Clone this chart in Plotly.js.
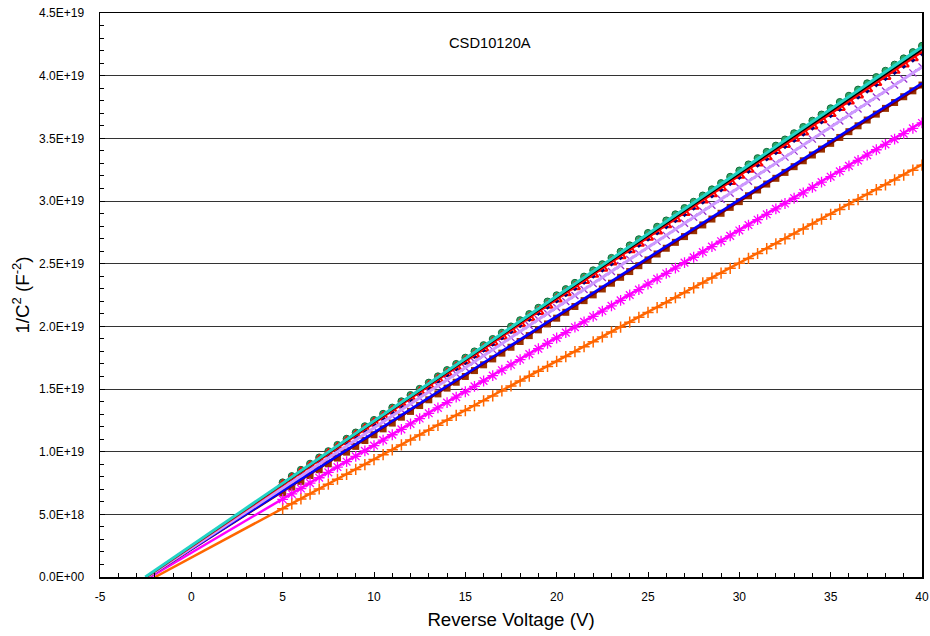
<!DOCTYPE html>
<html>
<head>
<meta charset="utf-8">
<script src="https://cdn.plot.ly/plotly-3.0.1.min.js"></script>
<style>html,body{margin:0;padding:0;background:#fff;}#chart{width:930px;height:636px;}</style>
</head>
<body>
<div id="chart"></div>
<script>
// Reverse voltage (V) of the measured points
var voltage = [5,5.5,6,6.5,7,7.5,8,8.5,9,9.5,10,10.5,11,11.5,12,12.5,13,13.5,14,14.5,15,15.5,16,16.5,17,17.5,18,18.5,19,19.5,20,20.5,21,21.5,22,22.5,23,23.5,24,24.5,25,25.5,26,26.5,27,27.5,28,28.5,29,29.5,30,30.5,31,31.5,32,32.5,33,33.5,34,34.5,35,35.5,36,36.5,37,37.5,38,38.5,39,39.5,40];

// 1/C^2 (F^-2) per device
var greenY = [7.55e18,8.05e18,8.55e18,9.04e18,9.54e18,10.04e18,10.54e18,11.03e18,11.53e18,12.03e18,12.53e18,13.02e18,13.52e18,14.02e18,14.52e18,15.01e18,15.51e18,16.01e18,16.51e18,17.00e18,17.50e18,18.00e18,18.50e18,18.99e18,19.49e18,19.99e18,20.49e18,20.98e18,21.48e18,21.98e18,22.48e18,22.97e18,23.47e18,23.97e18,24.47e18,24.96e18,25.46e18,25.96e18,26.46e18,26.95e18,27.45e18,27.95e18,28.45e18,28.94e18,29.44e18,29.94e18,30.44e18,30.93e18,31.43e18,31.93e18,32.43e18,32.92e18,33.42e18,33.92e18,34.42e18,34.91e18,35.41e18,35.91e18,36.41e18,36.90e18,37.40e18,37.90e18,38.40e18,38.89e18,39.39e18,39.89e18,40.39e18,40.88e18,41.38e18,41.88e18,42.38e18];
var redY = [7.35e18,7.84e18,8.34e18,8.83e18,9.32e18,9.82e18,10.31e18,10.80e18,11.30e18,11.79e18,12.29e18,12.78e18,13.27e18,13.77e18,14.26e18,14.75e18,15.25e18,15.74e18,16.23e18,16.73e18,17.22e18,17.71e18,18.21e18,18.70e18,19.19e18,19.69e18,20.18e18,20.67e18,21.17e18,21.66e18,22.16e18,22.65e18,23.14e18,23.64e18,24.13e18,24.62e18,25.12e18,25.61e18,26.10e18,26.60e18,27.09e18,27.58e18,28.08e18,28.57e18,29.06e18,29.56e18,30.05e18,30.55e18,31.04e18,31.53e18,32.03e18,32.52e18,33.01e18,33.51e18,34.00e18,34.49e18,34.99e18,35.48e18,35.97e18,36.47e18,36.96e18,37.45e18,37.95e18,38.44e18,38.93e18,39.43e18,39.92e18,40.41e18,40.91e18,41.40e18,41.90e18];
var navyY = [7.25e18,7.75e18,8.24e18,8.73e18,9.22e18,9.72e18,10.21e18,10.70e18,11.19e18,11.69e18,12.18e18,12.67e18,13.16e18,13.66e18,14.15e18,14.64e18,15.13e18,15.63e18,16.12e18,16.61e18,17.10e18,17.60e18,18.09e18,18.58e18,19.07e18,19.57e18,20.06e18,20.55e18,21.04e18,21.54e18,22.03e18,22.52e18,23.01e18,23.51e18,24.00e18,24.49e18,24.98e18,25.48e18,25.97e18,26.46e18,26.95e18,27.45e18,27.94e18,28.43e18,28.92e18,29.42e18,29.91e18,30.40e18,30.89e18,31.39e18,31.88e18,32.37e18,32.86e18,33.36e18,33.85e18,34.34e18,34.83e18,35.33e18,35.82e18,36.31e18,36.80e18,37.30e18,37.79e18,38.28e18,38.77e18,39.27e18,39.76e18,40.25e18,40.74e18,41.24e18,41.73e18];
var lavenderY = [7.10e18,7.58e18,8.06e18,8.54e18,9.02e18,9.50e18,9.98e18,10.46e18,10.94e18,11.42e18,11.90e18,12.38e18,12.86e18,13.34e18,13.82e18,14.30e18,14.78e18,15.26e18,15.74e18,16.22e18,16.70e18,17.18e18,17.66e18,18.14e18,18.62e18,19.10e18,19.58e18,20.06e18,20.54e18,21.02e18,21.50e18,21.98e18,22.46e18,22.94e18,23.42e18,23.90e18,24.38e18,24.86e18,25.34e18,25.82e18,26.30e18,26.78e18,27.26e18,27.74e18,28.22e18,28.70e18,29.18e18,29.66e18,30.14e18,30.62e18,31.10e18,31.58e18,32.06e18,32.54e18,33.02e18,33.50e18,33.98e18,34.46e18,34.94e18,35.42e18,35.90e18,36.38e18,36.86e18,37.34e18,37.82e18,38.30e18,38.78e18,39.26e18,39.74e18,40.22e18,40.70e18];
var brownY = [6.70e18,7.17e18,7.63e18,8.10e18,8.56e18,9.03e18,9.49e18,9.96e18,10.42e18,10.89e18,11.35e18,11.82e18,12.28e18,12.75e18,13.21e18,13.68e18,14.14e18,14.61e18,15.07e18,15.54e18,16.00e18,16.47e18,16.93e18,17.40e18,17.86e18,18.33e18,18.79e18,19.26e18,19.72e18,20.19e18,20.65e18,21.12e18,21.58e18,22.05e18,22.51e18,22.98e18,23.44e18,23.91e18,24.37e18,24.84e18,25.30e18,25.77e18,26.23e18,26.70e18,27.16e18,27.63e18,28.09e18,28.56e18,29.02e18,29.49e18,29.95e18,30.42e18,30.88e18,31.35e18,31.81e18,32.28e18,32.74e18,33.21e18,33.67e18,34.14e18,34.60e18,35.07e18,35.53e18,36.00e18,36.46e18,36.93e18,37.39e18,37.86e18,38.32e18,38.79e18,39.25e18];
var magentaY = [6.20e18,6.63e18,7.06e18,7.49e18,7.92e18,8.35e18,8.77e18,9.20e18,9.63e18,10.06e18,10.49e18,10.92e18,11.35e18,11.78e18,12.21e18,12.64e18,13.06e18,13.49e18,13.92e18,14.35e18,14.78e18,15.21e18,15.64e18,16.07e18,16.50e18,16.93e18,17.35e18,17.78e18,18.21e18,18.64e18,19.07e18,19.50e18,19.93e18,20.36e18,20.79e18,21.22e18,21.64e18,22.07e18,22.50e18,22.93e18,23.36e18,23.79e18,24.22e18,24.65e18,25.08e18,25.51e18,25.93e18,26.36e18,26.79e18,27.22e18,27.65e18,28.08e18,28.51e18,28.94e18,29.37e18,29.80e18,30.22e18,30.65e18,31.08e18,31.51e18,31.94e18,32.37e18,32.80e18,33.23e18,33.66e18,34.09e18,34.51e18,34.94e18,35.37e18,35.80e18,36.23e18];
var orangeY = [5.45e18,5.84e18,6.23e18,6.62e18,7.02e18,7.41e18,7.80e18,8.19e18,8.58e18,8.97e18,9.37e18,9.76e18,10.15e18,10.54e18,10.93e18,11.32e18,11.71e18,12.10e18,12.50e18,12.89e18,13.28e18,13.67e18,14.06e18,14.45e18,14.85e18,15.24e18,15.63e18,16.02e18,16.41e18,16.80e18,17.20e18,17.59e18,17.98e18,18.37e18,18.76e18,19.15e18,19.54e18,19.93e18,20.33e18,20.72e18,21.11e18,21.50e18,21.89e18,22.28e18,22.68e18,23.07e18,23.46e18,23.85e18,24.24e18,24.63e18,25.03e18,25.42e18,25.81e18,26.20e18,26.59e18,26.98e18,27.37e18,27.76e18,28.16e18,28.55e18,28.94e18,29.33e18,29.72e18,30.11e18,30.51e18,30.90e18,31.29e18,31.68e18,32.07e18,32.46e18,32.86e18];

// Linear fits: [x-intercept, 40 V] and [0, value at 40 V]
var fitCyanX = [-2.52, 40],    fitCyanY = [0, 4.23e19];
var fitBlackX = [-2.48, 40],   fitBlackY = [0, 4.21e19];
var fitRedX = [-2.45, 40],     fitRedY = [0, 4.19e19];
var fitLavenderX = [-2.40, 40],fitLavenderY = [0, 4.07e19];
var fitMaroonX = [-2.35, 40],  fitMaroonY = [0, 3.92e19];
var fitBlueX = [-2.40, 40],    fitBlueY = [0, 3.94e19];
var fitMagentaX = [-2.25, 40], fitMagentaY = [0, 3.63e19];
var fitOrangeX = [-1.98, 40],  fitOrangeY = [0, 3.29e19];

var yTickVals = [0, 5e18, 1e19, 1.5e19, 2e19, 2.5e19, 3e19, 3.5e19, 4e19, 4.5e19];
var yTickText = ["0.0E+00","5.0E+18","1.0E+19","1.5E+19","2.0E+19","2.5E+19","3.0E+19","3.5E+19","4.0E+19","4.5E+19"];
var xTickVals = [-5,0,5,10,15,20,25,30,35,40];
var xTickText = ["-5","0","5","10","15","20","25","30","35","40"];

function pts(y, sym, size, color, lw, fill) {
  return {x: voltage, y: y, type: 'scatter', mode: 'markers', showlegend: false,
    marker: {symbol: sym, size: size, color: fill || color, line: {color: color, width: lw}}};
}
function fit(x, y, color, w) {
  return {x: x, y: y, type: 'scatter', mode: 'lines', showlegend: false,
    line: {color: color, width: w}};
}

var traces = [
  pts(brownY, 'square', 7, '#993300', 0),
  pts(orangeY, 'cross-thin-open', 8, '#ff6600', 1.5),
  pts(magentaY, 'asterisk-open', 9, '#ff00ff', 1.3),
  pts(lavenderY, 'x-thin-open', 7, '#9933cc', 1.3),
  pts(greenY, 'circle', 7, '#0e6b3a', 1, '#2ea868'),
  pts(redY, 'triangle-up-open', 9, '#ff0000', 2),
  pts(navyY, 'diamond', 4, '#000080', 0),
  fit(fitOrangeX, fitOrangeY, '#ff6600', 2.5),
  fit(fitMagentaX, fitMagentaY, '#ff00ff', 2.5),
  fit(fitMaroonX, fitMaroonY, '#800000', 2),
  fit(fitBlueX, fitBlueY, '#0000ff', 2.5),
  fit(fitLavenderX, fitLavenderY, '#cc99ff', 3),
  fit(fitRedX, fitRedY, '#ff0000', 2.5),
  fit(fitBlackX, fitBlackY, '#000000', 2),
  fit(fitCyanX, fitCyanY, '#22d3c5', 3)
];

var font = 'Liberation Sans, Arial, sans-serif';
var layout = {
  width: 930, height: 636,
  margin: {l: 100, r: 8, t: 13, b: 59},
  paper_bgcolor: '#ffffff', plot_bgcolor: '#ffffff',
  font: {family: font, size: 12, color: '#000'},
  showlegend: false,
  xaxis: {
    range: [-5, 40], tickvals: xTickVals, ticktext: xTickText,
    ticks: 'inside', ticklen: 5, tickcolor: '#000', tickwidth: 1,
    minor: {dtick: 1, tick0: 0, ticks: 'inside', ticklen: 4, tickcolor: '#000', showgrid: false},
    showline: true, linecolor: '#000', linewidth: 1.5, mirror: true,
    showgrid: false, zeroline: false, ticklabelstandoff: 8,
    tickfont: {family: font, size: 12},
    title: {text: 'Reverse Voltage (V)', font: {family: font, size: 18.7}, standoff: 10}
  },
  yaxis: {
    range: [0, 4.5e19], tickvals: yTickVals, ticktext: yTickText,
    ticks: 'inside', ticklen: 5, tickcolor: '#000', tickwidth: 1,
    minor: {dtick: 1e18, tick0: 0, ticks: 'inside', ticklen: 4, tickcolor: '#000', showgrid: false},
    showline: true, linecolor: '#000', linewidth: 1.5, mirror: true,
    showgrid: true, gridcolor: '#333', gridwidth: 1, zeroline: false,
    ticklabelstandoff: 12,
    tickfont: {family: font, size: 12},
    title: {text: '1/C<sup>2</sup> (F<sup>-2</sup>)', font: {family: font, size: 18.7}, standoff: 4}
  },
  annotations: [{
    text: 'CSD10120A', xref: 'paper', yref: 'paper', x: 0.4745, y: 0.947,
    xanchor: 'center', yanchor: 'middle',
    showarrow: false, font: {family: font, size: 14.7, color: '#000'}
  }]
};

Plotly.newPlot('chart', traces, layout, {displayModeBar: false, staticPlot: true});
</script>
</body>
</html>
